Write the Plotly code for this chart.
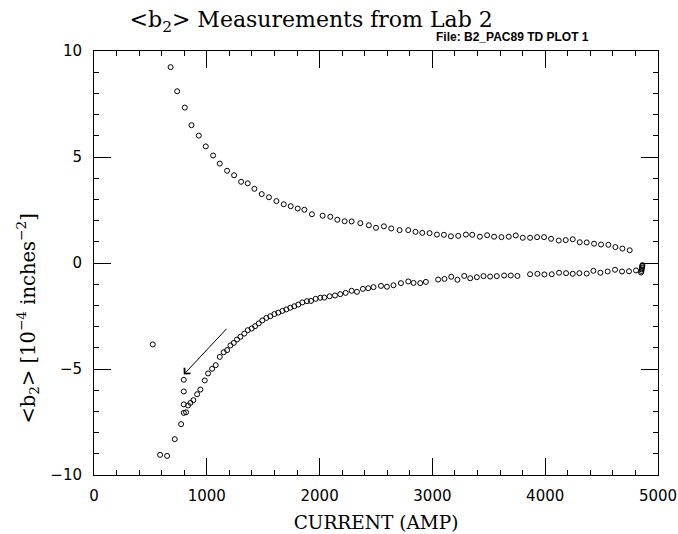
import plotly.graph_objects as go

# Upper branch (current in A, b2 in 1e-4 in^-2)
upper_x = [679, 737, 805, 864, 929, 991, 1056, 1115, 1180, 1242, 1304, 1363, 1422, 1487,
           1551, 1617, 1682, 1744, 1806, 1865, 1932, 2027, 2095, 2157, 2222, 2284, 2361,
           2437, 2500, 2570, 2635, 2709, 2786, 2850, 2910, 2975, 3040, 3102, 3164, 3229,
           3297, 3353, 3421, 3485, 3547, 3612, 3677, 3739, 3801, 3866, 3928, 3990, 4052,
           4120, 4182, 4244, 4306, 4368, 4433, 4495, 4560, 4622, 4684, 4749]
upper_y = [9.24, 8.10, 7.33, 6.50, 6.01, 5.50, 5.07, 4.69, 4.35, 4.14, 3.83, 3.76, 3.50, 3.25,
           3.10, 2.92, 2.77, 2.68, 2.57, 2.51, 2.30, 2.23, 2.18, 2.04, 1.97, 1.96, 1.88,
           1.78, 1.66, 1.73, 1.63, 1.55, 1.55, 1.47, 1.42, 1.41, 1.34, 1.33, 1.26, 1.28,
           1.34, 1.33, 1.24, 1.31, 1.24, 1.22, 1.24, 1.30, 1.19, 1.19, 1.22, 1.22, 1.14,
           1.06, 1.08, 1.12, 0.98, 0.97, 0.91, 0.87, 0.86, 0.75, 0.68, 0.60]

# Lower branch
lower_x = [521, 586, 648, 716, 772, 796, 796, 796, 796, 816, 834, 855, 881, 914, 943, 982,
           1011, 1047, 1079, 1115, 1150, 1180, 1209, 1239, 1268, 1298, 1333, 1363, 1398,
           1428, 1460, 1492, 1528, 1563, 1599, 1634, 1670, 1705, 1740, 1776, 1811, 1847,
           1888, 1924, 1965, 2006, 2042, 2089, 2136, 2183, 2231, 2284, 2331, 2384, 2431,
           2478, 2544, 2597, 2655, 2721, 2786, 2833, 2892, 2942, 3051, 3107, 3167, 3222,
           3282, 3335, 3394, 3453, 3512, 3571, 3636, 3695, 3754, 3866, 3931, 3993, 4058,
           4123, 4185, 4244, 4303, 4368, 4427, 4489, 4554, 4619, 4681, 4743, 4805,
           4850, 4853, 4856, 4858, 4860, 4862]
lower_y = [-3.84, -9.05, -9.10, -8.31, -7.60, -7.07, -6.67, -6.06, -5.51, -7.04, -6.72,
           -6.60, -6.47, -6.19, -5.97, -5.54, -5.21, -4.99, -4.82, -4.43, -4.21, -4.11,
           -3.89, -3.77, -3.61, -3.48, -3.33, -3.17, -3.09, -2.98, -2.85, -2.71, -2.59,
           -2.51, -2.41, -2.34, -2.26, -2.19, -2.11, -2.04, -1.96, -1.86, -1.80, -1.79,
           -1.69, -1.64, -1.63, -1.57, -1.53, -1.47, -1.41, -1.31, -1.36, -1.22, -1.19,
           -1.14, -1.08, -1.12, -1.05, -0.95, -0.87, -0.94, -0.95, -0.89, -0.78, -0.75,
           -0.65, -0.79, -0.61, -0.72, -0.67, -0.62, -0.64, -0.62, -0.59, -0.59, -0.61,
           -0.53, -0.51, -0.54, -0.53, -0.46, -0.48, -0.51, -0.48, -0.50, -0.37, -0.46,
           -0.40, -0.32, -0.40, -0.39, -0.35,
           -0.45, -0.38, -0.30, -0.22, -0.15, -0.10]

# Arrow (head, tail) in data units
arrow_head = (796, -5.26)
arrow_tail = (1188, -3.03)

x_ticks = [0, 1000, 2000, 3000, 4000, 5000]
y_ticks = [-10, -5, 0, 5, 10]

serif = "DejaVu Serif, Liberation Serif, serif"
sans = "DejaVu Sans, Liberation Sans, sans-serif"
bold_sans = "Liberation Sans, Arial, sans-serif"

fig = go.Figure()
marker = dict(symbol="circle-open", size=5, color="black", line=dict(width=1, color="black"))
fig.add_trace(go.Scatter(x=upper_x, y=upper_y, mode="markers", marker=marker, showlegend=False))
fig.add_trace(go.Scatter(x=lower_x, y=lower_y, mode="markers", marker=marker, showlegend=False))

fig.add_annotation(x=arrow_head[0], y=arrow_head[1], ax=arrow_tail[0], ay=arrow_tail[1],
                   xref="x", yref="y", axref="x", ayref="y", text="", showarrow=True,
                   arrowhead=4, arrowsize=1.6, arrowwidth=1, arrowcolor="black")

fig.add_annotation(text="<b>File: B2_PAC89 TD PLOT 1</b>", xref="paper", yref="paper",
                   x=0.742, y=1.033, xanchor="center", yanchor="middle", showarrow=False,
                   font=dict(family=bold_sans, size=12, color="black"))

# y-axis title (rotated text, centred slightly below the plot middle as in the original)
fig.add_annotation(text="&lt;b<sub>2</sub>&gt; [10<sup>−4</sup> inches<sup>−2</sup>]",
                   xref="paper", yref="paper", x=-0.118, y=0.37, textangle=-90,
                   xanchor="center", yanchor="middle", showarrow=False,
                   font=dict(family=serif, size=19.5, color="black"))

axis_common = dict(showgrid=False, zeroline=False, showline=True, linecolor="black",
                   linewidth=1, mirror="ticks", ticks="inside", tickcolor="black",
                   tickwidth=1, automargin=False)

fig.update_layout(
    width=678, height=534,
    margin=dict(l=93.5, r=20, t=51, b=59, autoexpand=False),
    paper_bgcolor="white", plot_bgcolor="white",
    title=dict(text="&lt;b<sub>2</sub>&gt; Measurements from Lab 2", x=0.459, y=0.964,
               xanchor="center", yanchor="middle", automargin=False,
               font=dict(family=serif, size=22, color="black")),
    xaxis=dict(range=[0, 5000], tickvals=x_ticks, ticklen=17,
               minor=dict(dtick=200, ticklen=5, ticks="inside", tickcolor="black"),
               tickfont=dict(family=sans, size=15, color="black"),
               ticklabelstandoff=7,
               title=dict(text="CURRENT (AMP)", standoff=12,
                          font=dict(family=serif, size=18.5, color="black")),
               **axis_common),
    yaxis=dict(range=[-10, 10], tickvals=y_ticks, ticklen=17,
               minor=dict(dtick=1, ticklen=5, ticks="inside", tickcolor="black"),
               tickfont=dict(family=sans, size=15, color="black"),
               ticklabelstandoff=8,
               **axis_common),
)

# remove the browser's default page margin so the 678x534 figure fills the window exactly
fig.write_html("out.html", config={"displayModeBar": False},
               post_script="document.body.style.margin='0';document.body.style.overflow='hidden';")
